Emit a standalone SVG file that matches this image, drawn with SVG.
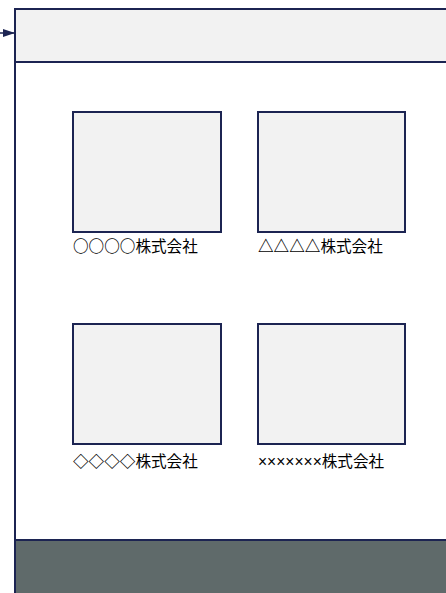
<svg xmlns="http://www.w3.org/2000/svg" width="446" height="593" viewBox="0 0 446 593">
<style>
.frame{stroke:#1c2452;stroke-width:2;}
.box{fill:#f2f2f2;stroke:#1c2452;stroke-width:2;}
.lbl{font-family:"Noto Sans CJK JP","Liberation Sans",sans-serif;font-size:15.6px;fill:#000;}
.sym{font-weight:bold;}
.lat{font-family:"Liberation Sans",sans-serif;}
</style>
<defs>
<marker id="ah" markerWidth="12" markerHeight="10" refX="11" refY="5" orient="auto" markerUnits="userSpaceOnUse">
<path d="M0,1 L12,5 L0,9 Z" fill="#1c2452"/>
</marker>
</defs>
<g id="page">
<rect x="15" y="9" width="440" height="600" fill="#ffffff" class="frame"/>
</g>
<g id="header">
<rect x="15" y="9" width="440" height="53" fill="#f2f2f2" class="frame"/>
</g>
<g id="footer">
<rect x="15" y="540" width="440" height="70" fill="#5f6a6a" class="frame"/>
</g>
<g id="card1">
<rect x="73" y="112" width="148" height="120" class="box"/>
<text x="73" y="252" class="lbl"><tspan class="sym">○○○○</tspan>株式会社</text>
</g>
<g id="card2">
<rect x="258" y="112" width="147" height="120" class="box"/>
<text x="258" y="252" class="lbl"><tspan class="sym">△△△△</tspan>株式会社</text>
</g>
<g id="card3">
<rect x="73" y="324" width="148" height="120" class="box"/>
<text x="73" y="467" class="lbl"><tspan class="sym">◇◇◇◇</tspan>株式会社</text>
</g>
<g id="card4">
<rect x="258" y="324" width="147" height="120" class="box"/>
<text x="258" y="467" class="lbl"><tspan class="lat">×××××××</tspan>株式会社</text>
</g>
<g id="connectors">
<line x1="0" y1="33" x2="14" y2="33" stroke="#1c2452" stroke-width="1.5" marker-end="url(#ah)"/>
</g>
</svg>
